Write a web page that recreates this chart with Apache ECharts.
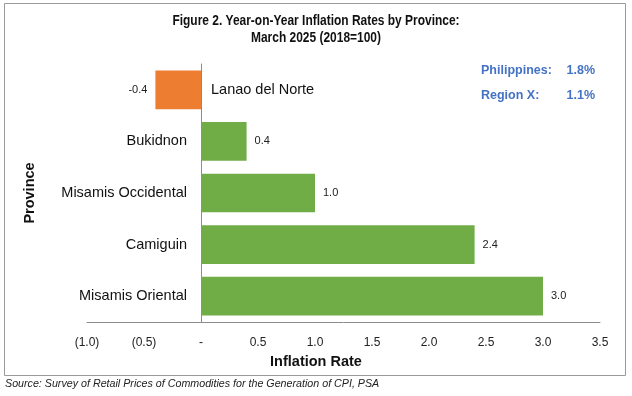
<!DOCTYPE html>
<html>
<head>
<meta charset="utf-8">
<script src="https://cdn.jsdelivr.net/npm/echarts@6/dist/echarts.min.js"></script>
<style>
  html, body { margin: 0; padding: 0; background: #fff; }
  #chart { width: 632px; height: 396px; }
</style>
</head>
<body>
<div id="chart"></div>
<script>
// provinces, top to bottom
var provinces = ['Lanao del Norte', 'Bukidnon', 'Misamis Occidental', 'Camiguin', 'Misamis Oriental'];
var inflation = [-0.4, 0.4, 1.0, 2.4, 3.0];
var refNames = ['Philippines:', 'Region X:'];
var refValues = ['1.8%', '1.1%'];

var FONT = 'Liberation Sans, Arial, sans-serif';

window.onload = function() {
    var chart = echarts.init(document.getElementById('chart'));

    var valueData = inflation.map(function(v) {
        return {
            value: v,
            itemStyle: { color: v < 0 ? '#ED7D31' : '#70AD47' },
            label: { position: v < 0 ? 'left' : 'right' }
        };
    });
    // transparent copy of the bars, only used to place the province names
    var nameData = inflation.map(function(v, i) {
        return {
            value: v,
            name: provinces[i],
            label: { position: v < 0 ? 'right' : 'left', distance: v < 0 ? 10 : 14 }
        };
    });

    var graphics = [{
        type: 'rect',
        shape: { x: 4.5, y: 3.5, width: 621, height: 372 },
        style: { fill: 'none', stroke: '#9a9a9a', lineWidth: 1 },
        silent: true
    }, {
        // title is set in a narrow face in the original, so squeeze it a bit
        type: 'text',
        x: 316, y: 12,
        scaleX: 0.825,
        style: {
            text: 'Figure 2. Year-on-Year Inflation Rates by Province:\nMarch 2025 (2018=100)',
            font: 'bold 14.5px ' + FONT, fill: '#111',
            align: 'center', verticalAlign: 'top', lineHeight: 17
        }
    }, {
        type: 'text',
        left: 5, top: 379,
        style: {
            text: 'Source: Survey of Retail Prices of Commodities for the Generation of CPI, PSA',
            font: 'italic 10.7px ' + FONT, fill: '#222'
        }
    }];
    refNames.forEach(function(n, i) {
        graphics.push({
            type: 'text', left: 481, top: 64 + i * 25,
            style: { text: n, font: 'bold 12.5px ' + FONT, fill: '#4472C4' }
        });
        graphics.push({
            type: 'text', right: 37, top: 64 + i * 25,
            style: { text: refValues[i], font: 'bold 12.5px ' + FONT, fill: '#4472C4' }
        });
    });

    chart.setOption({
        animation: false,
        grid: { left: 87, right: 32, top: 64, bottom: 74, containLabel: false, outerBoundsMode: 'none' },
        xAxis: {
            type: 'value',
            min: -1, max: 3.5, interval: 0.5,
            name: 'Inflation Rate',
            nameLocation: 'middle',
            nameGap: 32,
            nameTextStyle: {
                fontFamily: FONT, fontSize: 14.5, fontWeight: 'bold', color: '#111',
                padding: [0, 55, 0, 0]
            },
            axisLine: { show: true, lineStyle: { color: '#8c8c8c' } },
            axisTick: { show: false },
            splitLine: { show: false },
            axisLabel: {
                margin: 15,
                fontFamily: FONT, fontSize: 12, color: '#222',
                formatter: function(v) {
                    if (Math.abs(v) < 1e-9) return '-';
                    if (v < 0) return '(' + Math.abs(v).toFixed(1) + ')';
                    return v.toFixed(1);
                }
            }
        },
        yAxis: {
            type: 'category',
            inverse: true,
            data: provinces,
            name: 'Province',
            nameLocation: 'middle',
            nameGap: 50,
            nameTextStyle: { fontFamily: FONT, fontSize: 14.5, fontWeight: 'bold', color: '#111' },
            axisLine: { onZero: true, lineStyle: { color: '#8c8c8c' } },
            axisTick: { show: false },
            axisLabel: { show: false }
        },
        series: [{
            type: 'bar',
            barWidth: '75%',
            data: valueData,
            label: {
                show: true,
                distance: 8,
                fontFamily: FONT, fontSize: 11, color: '#222',
                formatter: function(p) { return p.value.toFixed(1); }
            },
            z: 2
        }, {
            type: 'bar',
            barWidth: '75%',
            barGap: '-100%',
            data: nameData,
            itemStyle: { color: 'rgba(0,0,0,0)' },
            label: {
                show: true,
                fontFamily: FONT, fontSize: 14.5, color: '#111',
                formatter: '{b}'
            },
            silent: true,
            z: 3
        }],
        graphic: graphics
    });
};
</script>
</body>
</html>
